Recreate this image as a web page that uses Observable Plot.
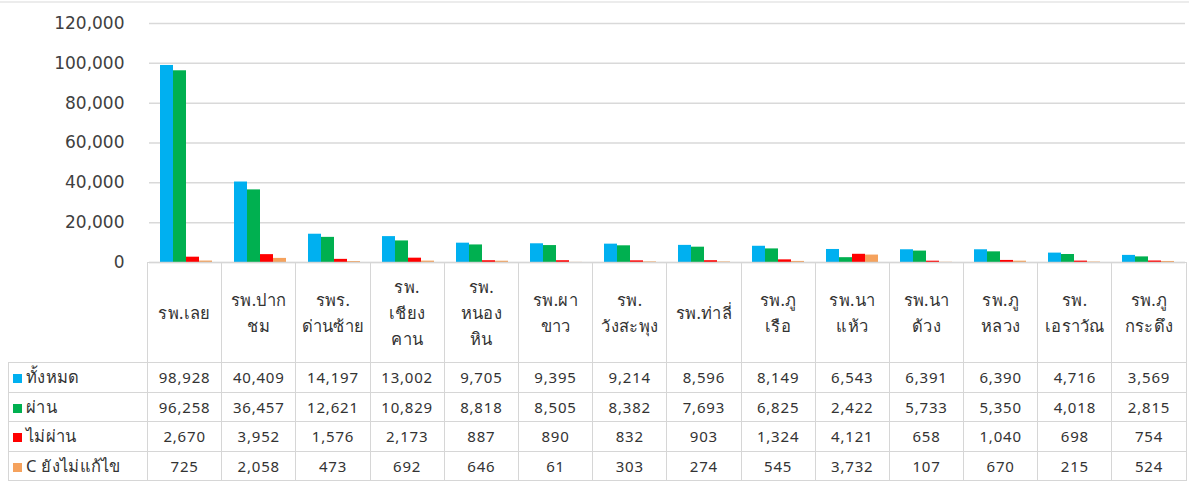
<!DOCTYPE html>
<html>
<head>
<meta charset="utf-8">
<script src="https://cdn.jsdelivr.net/npm/d3@7"></script>
<script src="https://cdn.jsdelivr.net/npm/@observablehq/plot@0.6"></script>
<style>
  html, body { margin: 0; padding: 0; background: #fff; }
  #wrap { position: relative; width: 1189px; height: 499px; overflow: hidden; font-family: "Noto Sans", "DejaVu Sans", sans-serif; }
  #topline { position: absolute; left: 0; top: 1px; width: 1189px; height: 2px; background: #ececec; }
  #chart { position: absolute; left: 0; top: 0; }
  #tbl { position: absolute; left: 8px; top: 262px; border-collapse: collapse; table-layout: fixed; color: #333; }
  #tbl td { border: 1px solid #d6d6d6; text-align: center; padding: 0; font-size: 15px; letter-spacing: 0.8px; white-space: nowrap; }
  #tbl td.blank { border: none; border-right: 1px solid #d6d6d6; }
  #tbl tr.head td { height: 99px; white-space: pre-line; line-height: 26px; font-size: 16.5px; letter-spacing: 0.3px; vertical-align: middle; }
  #tbl tr.head td.blank { border-top: none; }
  #tbl tr.row td { height: 28.5px; }
  #tbl td.lab { text-align: left; padding-left: 4px; font-size: 16.5px; letter-spacing: 0.3px; }
  .sw { display: inline-block; width: 9px; height: 9px; margin-right: 4px; vertical-align: 0px; }
</style>
</head>
<body>
<div id="wrap"><div id="topline"></div><div id="chart"></div></div>
<script>
const hospitals = ["รพ.เลย", "รพ.ปาก\nชม", "รพร.\nด่านซ้าย", "รพ.\nเชียง\nคาน", "รพ.\nหนอง\nหิน", "รพ.ผา\nขาว", "รพ.\nวังสะพุง", "รพ.ท่าลี่", "รพ.ภู\nเรือ", "รพ.นา\nแห้ว", "รพ.นา\nด้วง", "รพ.ภู\nหลวง", "รพ.\nเอราวัณ", "รพ.ภู\nกระดึง"];
const seriesNames = ["ทั้งหมด", "ผ่าน", "ไม่ผ่าน", "C ยังไม่แก้ไข"];
const total   = [98928, 40409, 14197, 13002, 9705, 9395, 9214, 8596, 8149, 6543, 6391, 6390, 4716, 3569];
const passed  = [96258, 36457, 12621, 10829, 8818, 8505, 8382, 7693, 6825, 2422, 5733, 5350, 4018, 2815];
const failed  = [2670, 3952, 1576, 2173, 887, 890, 832, 903, 1324, 4121, 658, 1040, 698, 754];
const unfixed = [725, 2058, 473, 692, 646, 61, 303, 274, 545, 3732, 107, 670, 215, 524];
const seriesColors = ["#00b0f0", "#00b050", "#ff0000", "#f5a25d"];
const yTicks = [0, 20000, 40000, 60000, 80000, 100000, 120000];

const seriesValues = [total, passed, failed, unfixed];
const data = [];
hospitals.forEach((h, i) => seriesNames.forEach((s, j) => data.push({h, s, v: seriesValues[j][i]})));

const fmt = d3.format(",");
const chart = Plot.plot({
  width: 1189, height: 280,
  marginLeft: 147, marginRight: 3, marginTop: 23, marginBottom: 18,
  style: {fontFamily: "'DejaVu Sans', sans-serif", fontSize: "17px", color: "#404040", background: "transparent"},
  fx: {domain: hospitals, padding: 0, axis: null, label: null},
  x: {domain: seriesNames, paddingInner: 0, paddingOuter: 0.74, axis: null},
  y: {domain: [0, 120000], ticks: yTicks, tickFormat: fmt, tickSize: 0, tickPadding: 25, label: null},
  color: {domain: seriesNames, range: seriesColors},
  marks: [
    Plot.ruleY(yTicks.slice(1), {stroke: "#d9d9d9", strokeWidth: 1.5}),
    Plot.barY(data, {fx: "h", x: "s", y: "v", fill: "s"}),
    Plot.ruleY([0], {stroke: "#c8c8c8", strokeWidth: 1.5})
  ]
});
document.getElementById("chart").appendChild(chart);

// data table below the chart
const table = document.createElement("table");
table.id = "tbl";
const colgroup = document.createElement("colgroup");
const c0 = document.createElement("col"); c0.style.width = "139px"; colgroup.appendChild(c0);
hospitals.forEach(() => { const c = document.createElement("col"); c.style.width = "74.2px"; colgroup.appendChild(c); });
table.appendChild(colgroup);
const head = document.createElement("tr"); head.className = "head";
const blank = document.createElement("td"); blank.className = "blank"; head.appendChild(blank);
hospitals.forEach(h => { const td = document.createElement("td"); td.textContent = h; head.appendChild(td); });
table.appendChild(head);
seriesNames.forEach((s, j) => {
  const tr = document.createElement("tr"); tr.className = "row";
  const lab = document.createElement("td"); lab.className = "lab";
  const sw = document.createElement("span"); sw.className = "sw"; sw.style.background = seriesColors[j];
  lab.appendChild(sw); lab.appendChild(document.createTextNode(s));
  tr.appendChild(lab);
  seriesValues[j].forEach(v => { const td = document.createElement("td"); td.textContent = fmt(v); tr.appendChild(td); });
  table.appendChild(tr);
});
document.getElementById("wrap").appendChild(table);
</script>
</body>
</html>
